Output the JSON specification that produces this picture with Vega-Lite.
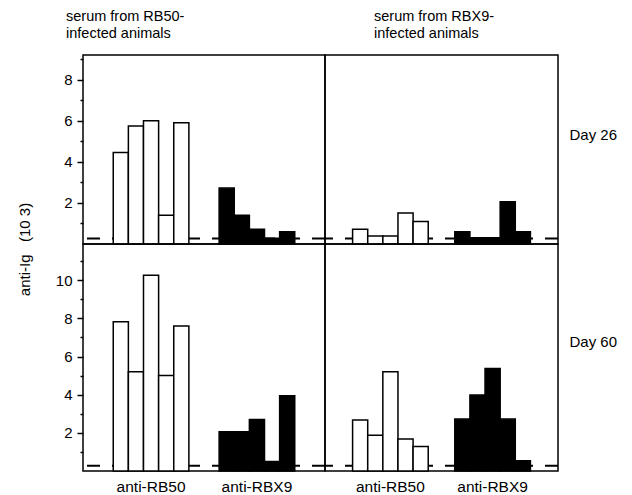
{
  "$schema": "https://vega.github.io/schema/vega-lite/v6.json",
  "background": "white",
  "padding": {"left": 16, "top": 8, "right": 5, "bottom": 3},
  "config": {
    "font": "Liberation Sans",
    "view": {"stroke": "black", "strokeWidth": 1.5},
    "axis": {"grid": false, "domain": false, "labelColor": "black", "titleColor": "black", "tickColor": "black", "labelFont": "Liberation Sans", "titleFont": "Liberation Sans", "labelOverlap": false},
    "title": {"font": "Liberation Sans", "fontSize": 14.5, "fontWeight": "normal", "color": "black", "anchor": "start", "lineHeight": 16.5, "offset": 14}
  },
  "datasets": {
    "bars": [
      {"serum": "RB50", "day": 26, "antigen": "anti-RB50", "animal": 1, "value": 4.45},
      {"serum": "RB50", "day": 26, "antigen": "anti-RB50", "animal": 2, "value": 5.75},
      {"serum": "RB50", "day": 26, "antigen": "anti-RB50", "animal": 3, "value": 6.0},
      {"serum": "RB50", "day": 26, "antigen": "anti-RB50", "animal": 4, "value": 1.4},
      {"serum": "RB50", "day": 26, "antigen": "anti-RB50", "animal": 5, "value": 5.9},
      {"serum": "RB50", "day": 26, "antigen": "anti-RBX9", "animal": 1, "value": 2.72},
      {"serum": "RB50", "day": 26, "antigen": "anti-RBX9", "animal": 2, "value": 1.4},
      {"serum": "RB50", "day": 26, "antigen": "anti-RBX9", "animal": 3, "value": 0.72},
      {"serum": "RB50", "day": 26, "antigen": "anti-RBX9", "animal": 4, "value": 0.28},
      {"serum": "RB50", "day": 26, "antigen": "anti-RBX9", "animal": 5, "value": 0.6},
      {"serum": "RBX9", "day": 26, "antigen": "anti-RB50", "animal": 1, "value": 0.72},
      {"serum": "RBX9", "day": 26, "antigen": "anti-RB50", "animal": 2, "value": 0.39},
      {"serum": "RBX9", "day": 26, "antigen": "anti-RB50", "animal": 3, "value": 0.39},
      {"serum": "RBX9", "day": 26, "antigen": "anti-RB50", "animal": 4, "value": 1.51},
      {"serum": "RBX9", "day": 26, "antigen": "anti-RB50", "animal": 5, "value": 1.09},
      {"serum": "RBX9", "day": 26, "antigen": "anti-RBX9", "animal": 1, "value": 0.6},
      {"serum": "RBX9", "day": 26, "antigen": "anti-RBX9", "animal": 2, "value": 0.31},
      {"serum": "RBX9", "day": 26, "antigen": "anti-RBX9", "animal": 3, "value": 0.31},
      {"serum": "RBX9", "day": 26, "antigen": "anti-RBX9", "animal": 4, "value": 2.06},
      {"serum": "RBX9", "day": 26, "antigen": "anti-RBX9", "animal": 5, "value": 0.6},
      {"serum": "RB50", "day": 60, "antigen": "anti-RB50", "animal": 1, "value": 7.83},
      {"serum": "RB50", "day": 60, "antigen": "anti-RB50", "animal": 2, "value": 5.2},
      {"serum": "RB50", "day": 60, "antigen": "anti-RB50", "animal": 3, "value": 10.26},
      {"serum": "RB50", "day": 60, "antigen": "anti-RB50", "animal": 4, "value": 5.0},
      {"serum": "RB50", "day": 60, "antigen": "anti-RB50", "animal": 5, "value": 7.6},
      {"serum": "RB50", "day": 60, "antigen": "anti-RBX9", "animal": 1, "value": 2.06},
      {"serum": "RB50", "day": 60, "antigen": "anti-RBX9", "animal": 2, "value": 2.06},
      {"serum": "RB50", "day": 60, "antigen": "anti-RBX9", "animal": 3, "value": 2.7},
      {"serum": "RB50", "day": 60, "antigen": "anti-RBX9", "animal": 4, "value": 0.5},
      {"serum": "RB50", "day": 60, "antigen": "anti-RBX9", "animal": 5, "value": 3.94},
      {"serum": "RBX9", "day": 60, "antigen": "anti-RB50", "animal": 1, "value": 2.67},
      {"serum": "RBX9", "day": 60, "antigen": "anti-RB50", "animal": 2, "value": 1.88},
      {"serum": "RBX9", "day": 60, "antigen": "anti-RB50", "animal": 3, "value": 5.2},
      {"serum": "RBX9", "day": 60, "antigen": "anti-RB50", "animal": 4, "value": 1.68},
      {"serum": "RBX9", "day": 60, "antigen": "anti-RB50", "animal": 5, "value": 1.29},
      {"serum": "RBX9", "day": 60, "antigen": "anti-RBX9", "animal": 1, "value": 2.72},
      {"serum": "RBX9", "day": 60, "antigen": "anti-RBX9", "animal": 2, "value": 3.98},
      {"serum": "RBX9", "day": 60, "antigen": "anti-RBX9", "animal": 3, "value": 5.37},
      {"serum": "RBX9", "day": 60, "antigen": "anti-RBX9", "animal": 4, "value": 2.72},
      {"serum": "RBX9", "day": 60, "antigen": "anti-RBX9", "animal": 5, "value": 0.54}
    ],
    "cutoff": [{"cutoff": 0.27}]
  },
  "columns": 2,
  "spacing": 0,
  "bounds": "flush",
  "align": "each",
  "concat": [
    {
      "width": 242, "height": 189,
      "title": {"text": ["serum from RB50-", "infected animals"], "dx": 49},
      "resolve": {"axis": {"y": "independent"}},
      "layer": [
        {
          "data": {"name": "cutoff"},
          "mark": {"type": "rule", "strokeDash": [13, 12], "strokeWidth": 2, "color": "black"},
          "encoding": {"y": {"field": "cutoff", "type": "quantitative", "scale": {"domain": [0, 9.2], "nice": false},
            "axis": {"orient": "left", "offset": 0, "values": [1, 3, 5, 7, 9], "labels": false, "tickSize": 3, "tickWidth": 1.5, "title": null}}}
        },
        {
          "data": {"name": "bars"},
          "transform": [{"filter": "datum.serum === 'RB50' && datum.day === 26"}],
          "mark": {"type": "bar", "stroke": "black", "strokeWidth": 1.5},
          "encoding": {
            "x": {"field": "antigen", "type": "nominal", "scale": {"domain": ["anti-RB50", "anti-RBX9"], "paddingInner": 0.2857, "paddingOuter": 0.2857}, "axis": null},
            "xOffset": {"field": "animal", "type": "ordinal", "scale": {"paddingInner": 0, "paddingOuter": 0}},
            "y": {"field": "value", "type": "quantitative", "scale": {"domain": [0, 9.2], "nice": false},
              "axis": {"orient": "left", "offset": 0, "values": [2, 4, 6, 8], "tickSize": 6, "tickWidth": 1.5, "labelFontSize": 15, "labelPadding": 5,
                "title": "anti-Ig\u00a0\u00a0\u00a0(10 3)", "titleFontSize": 15, "titleFontWeight": "normal",
                "titleAngle": -90, "titleX": -51, "titleY": 194, "titleAlign": "center", "titleBaseline": "bottom"}},
            "fill": {"field": "antigen", "type": "nominal", "scale": {"domain": ["anti-RB50", "anti-RBX9"], "range": ["white", "black"]}, "legend": null}
          }
        }
      ]
    },
    {
      "width": 233, "height": 189,
      "title": {"text": ["serum from RBX9-", "infected animals"], "dx": 50},
      "layer": [
        {
          "data": {"name": "cutoff"},
          "mark": {"type": "rule", "strokeDash": [13, 12], "strokeWidth": 2, "color": "black"},
          "encoding": {"y": {"field": "cutoff", "type": "quantitative"}}
        },
        {
          "data": {"name": "bars"},
          "transform": [{"filter": "datum.serum === 'RBX9' && datum.day === 26"}],
          "mark": {"type": "bar", "stroke": "black", "strokeWidth": 1.5},
          "encoding": {
            "x": {"field": "antigen", "type": "nominal", "scale": {"domain": ["anti-RB50", "anti-RBX9"], "paddingInner": 0.26, "paddingOuter": 0.27}, "axis": null},
            "xOffset": {"field": "animal", "type": "ordinal", "scale": {"paddingInner": 0, "paddingOuter": 0}},
            "y": {"field": "value", "type": "quantitative", "scale": {"domain": [0, 9.2], "nice": false},
              "axis": {"orient": "right", "labels": false, "ticks": false, "title": "Day 26", "titleFontSize": 15, "titleFontWeight": "normal",
                "titleAngle": 0, "titleAlign": "left", "titleBaseline": "middle", "titleX": 11, "titleY": 79}},
            "fill": {"field": "antigen", "type": "nominal", "scale": {"domain": ["anti-RB50", "anti-RBX9"], "range": ["white", "black"]}, "legend": null}
          }
        }
      ]
    },
    {
      "width": 242, "height": 227,
      "resolve": {"axis": {"y": "independent"}},
      "layer": [
        {
          "data": {"name": "cutoff"},
          "mark": {"type": "rule", "strokeDash": [13, 12], "strokeWidth": 2, "color": "black"},
          "encoding": {"y": {"field": "cutoff", "type": "quantitative", "scale": {"domain": [0, 11.9], "nice": false},
            "axis": {"orient": "left", "offset": 0, "values": [1, 3, 5, 7, 9, 11], "labels": false, "tickSize": 3, "tickWidth": 1.5, "title": null}}}
        },
        {
          "data": {"name": "bars"},
          "transform": [{"filter": "datum.serum === 'RB50' && datum.day === 60"}],
          "mark": {"type": "bar", "stroke": "black", "strokeWidth": 1.5},
          "encoding": {
            "x": {"field": "antigen", "type": "nominal", "scale": {"domain": ["anti-RB50", "anti-RBX9"], "paddingInner": 0.2857, "paddingOuter": 0.2857},
              "axis": {"title": null, "ticks": false, "tickSize": 0, "labelAngle": 0, "labelFontSize": 15.5, "labelPadding": 8}},
            "xOffset": {"field": "animal", "type": "ordinal", "scale": {"paddingInner": 0, "paddingOuter": 0}},
            "y": {"field": "value", "type": "quantitative", "scale": {"domain": [0, 11.9], "nice": false},
              "axis": {"orient": "left", "offset": 0, "values": [2, 4, 6, 8, 10], "tickSize": 6, "tickWidth": 1.5, "labelFontSize": 15, "labelPadding": 5, "title": null}},
            "fill": {"field": "antigen", "type": "nominal", "scale": {"domain": ["anti-RB50", "anti-RBX9"], "range": ["white", "black"]}, "legend": null}
          }
        }
      ]
    },
    {
      "width": 233, "height": 227,
      "layer": [
        {
          "data": {"name": "cutoff"},
          "mark": {"type": "rule", "strokeDash": [13, 12], "strokeWidth": 2, "color": "black"},
          "encoding": {"y": {"field": "cutoff", "type": "quantitative"}}
        },
        {
          "data": {"name": "bars"},
          "transform": [{"filter": "datum.serum === 'RBX9' && datum.day === 60"}],
          "mark": {"type": "bar", "stroke": "black", "strokeWidth": 1.5},
          "encoding": {
            "x": {"field": "antigen", "type": "nominal", "scale": {"domain": ["anti-RB50", "anti-RBX9"], "paddingInner": 0.26, "paddingOuter": 0.27},
              "axis": {"title": null, "ticks": false, "tickSize": 0, "labelAngle": 0, "labelFontSize": 15.5, "labelPadding": 8}},
            "xOffset": {"field": "animal", "type": "ordinal", "scale": {"paddingInner": 0, "paddingOuter": 0}},
            "y": {"field": "value", "type": "quantitative", "scale": {"domain": [0, 11.9], "nice": false},
              "axis": {"orient": "right", "labels": false, "ticks": false, "title": "Day 60", "titleFontSize": 15, "titleFontWeight": "normal",
                "titleAngle": 0, "titleAlign": "left", "titleBaseline": "middle", "titleX": 11, "titleY": 97}},
            "fill": {"field": "antigen", "type": "nominal", "scale": {"domain": ["anti-RB50", "anti-RBX9"], "range": ["white", "black"]}, "legend": null}
          }
        }
      ]
    }
  ]
}
